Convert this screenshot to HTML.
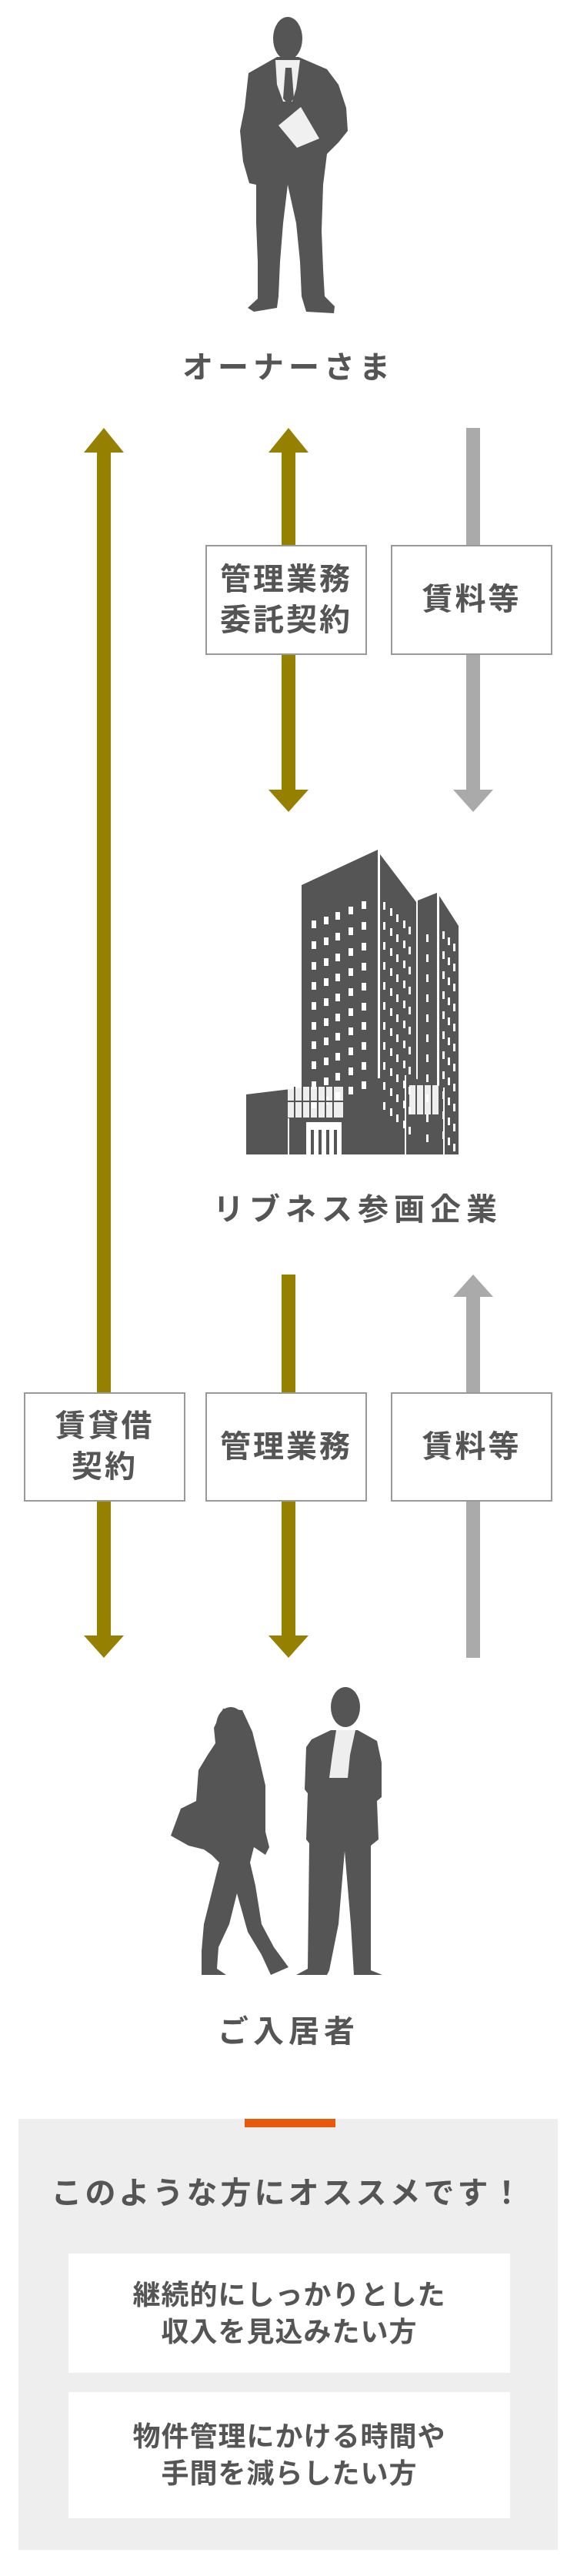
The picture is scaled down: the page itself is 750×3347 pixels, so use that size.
<!DOCTYPE html>
<html><head><meta charset="utf-8">
<style>
html,body{margin:0;padding:0;background:#fff;}
body{width:750px;height:3347px;position:relative;overflow:hidden;font-family:"Liberation Sans","Noto Sans CJK JP",sans-serif;color:#555;}
.t{position:absolute;font-weight:bold;white-space:nowrap;text-align:center;line-height:1;}
.box{position:absolute;background:#fff;border:2px solid #999;box-sizing:border-box;display:flex;align-items:center;justify-content:center;text-align:center;font-weight:bold;font-size:40px;letter-spacing:3px;line-height:53px;color:#555;}
.gbox{position:absolute;left:24px;top:2753px;width:701px;height:560px;background:#eee;}
.wbox{position:absolute;left:89px;width:574px;background:#fff;display:flex;align-items:center;justify-content:center;text-align:center;font-weight:bold;font-size:36px;letter-spacing:1px;line-height:48px;color:#555;}
svg{position:absolute;left:0;top:0;}
</style></head><body>
<svg width="750" height="3347" viewBox="0 0 750 3347">
<!-- owner -->
<g fill="#555">
<ellipse cx="374" cy="50" rx="19" ry="28"/>
<path d="M360,74 L388,74 L425,90 L440,110 L450,140 L452,170 L440,185 L425,200 L420,240 L418,300 L420,350 L422,385 L435,398 L434,407 L398,405 L392,385 L390,340 L385,290 L374,240 L368,290 L364,340 L362,385 L360,400 L330,405 L322,400 L335,388 L335,340 L333,290 L333,240 L324,238 L316,210 L312,170 L318,140 L323,95 Z"/>
</g>
<path d="M358,78 L390,78 L385,115 L380,132 L368,132 L360,110 Z" fill="#f0f0f0"/>
<path d="M371,88 L379,88 L382,128 L375,136 L368,128 Z" fill="#555"/>
<path d="M362,163 L391,139 L415,180 L386,192 Z" fill="#f0f0f0"/>
<!-- arrows row 1 -->
<g fill="#968000">
<rect x="126" y="585" width="18" height="1545"/>
<polygon points="135,556 161,588 109,588"/>
<polygon points="135,2154 161,2125 109,2125"/>
<rect x="366" y="585" width="18" height="445"/>
<polygon points="375,556 401,588 349,588"/>
<polygon points="375,1055 401,1026 349,1026"/>
<rect x="366" y="1656" width="18" height="472"/>
<polygon points="375,2154 401,2125 349,2125"/>
</g>
<g fill="#aaa">
<rect x="606" y="556" width="18" height="472"/>
<polygon points="615,1055 641,1026 589,1026"/>
<rect x="606" y="1682" width="18" height="472"/>
<polygon points="615,1656 641,1685 589,1685"/>
</g>
<!-- building -->
<g fill="#555">
<polygon points="392,1150 491,1104 491,1500 392,1500"/>
<polygon points="494,1110 541,1172 541,1500 494,1500"/>
<polygon points="543,1170 568,1160 568,1500 543,1500"/>
<polygon points="571,1164 596,1203 596,1500 571,1500"/>
<polygon points="320,1422 525,1397 578,1413 578,1500 320,1500"/>
</g>
<g fill="#fff">
<g id="wl">
<rect x="405" y="1196" width="6" height="10"/><rect x="421" y="1191" width="6" height="10"/><rect x="436" y="1185" width="6" height="10"/><rect x="453" y="1178" width="6" height="10"/><rect x="470" y="1171" width="6" height="10"/>
</g>
<use href="#wl" y="27"/><use href="#wl" y="54"/><use href="#wl" y="80"/><use href="#wl" y="106"/><use href="#wl" y="132"/><use href="#wl" y="157"/><use href="#wl" y="183"/><use href="#wl" y="209"/><use href="#wl" y="234"/>
<g id="wr">
<rect x="498" y="1172" width="3" height="10"/><rect x="507" y="1180" width="3" height="10"/><rect x="515" y="1188" width="3" height="10"/><rect x="524" y="1196" width="3" height="10"/><rect x="531" y="1204" width="3" height="10"/>
<rect x="554" y="1214" width="3" height="10"/><rect x="575" y="1210" width="3" height="10"/><rect x="582" y="1218" width="3" height="10"/><rect x="589" y="1226" width="3" height="10"/>
</g>
<use href="#wr" y="26"/><use href="#wr" y="52"/><use href="#wr" y="78"/><use href="#wr" y="104"/><use href="#wr" y="130"/><use href="#wr" y="156"/><use href="#wr" y="182"/><use href="#wr" y="208"/><use href="#wr" y="234"/><use href="#wr" y="260"/>
<rect x="374" y="1412" width="72" height="40" opacity="0.9"/>
<rect x="532" y="1410" width="38" height="38" opacity="0.9"/>
<rect x="374" y="1453" width="2" height="47"/><rect x="398" y="1458" width="46" height="42"/>
<rect x="526" y="1397" width="2" height="103"/><rect x="576" y="1413" width="2" height="87"/>
</g>
<g fill="#555">
<rect x="382" y="1412" width="2" height="40"/><rect x="392" y="1412" width="2" height="40"/><rect x="402" y="1412" width="2" height="40"/><rect x="412" y="1412" width="2" height="40"/><rect x="422" y="1412" width="2" height="40"/><rect x="432" y="1412" width="2" height="40"/>
<rect x="374" y="1430" width="72" height="2"/>
<rect x="404" y="1468" width="4" height="32"/><rect x="414" y="1468" width="4" height="32"/><rect x="424" y="1468" width="4" height="32"/><rect x="434" y="1468" width="4" height="32"/>
<rect x="540" y="1410" width="2" height="38"/><rect x="550" y="1410" width="2" height="38"/><rect x="560" y="1410" width="2" height="38"/>
</g>
<!-- people -->
<g fill="#555">
<ellipse cx="449" cy="2218" rx="19" ry="26"/>
<path d="M430,2248 L465,2248 L490,2262 L496,2290 L496,2335 L490,2340 L492,2390 L482,2398 L482,2560 L497,2566 L460,2566 L456,2500 L448,2405 L440,2500 L428,2560 L425,2566 L385,2566 L400,2558 L402,2395 L398,2390 L400,2330 L396,2325 L398,2270 L405,2260 Z"/>
<ellipse cx="300" cy="2242" rx="19" ry="24"/>
<path d="M290,2220 L315,2222 L328,2250 L338,2290 L345,2320 L345,2380 L350,2400 L345,2410 L330,2400 L325,2420 L332,2450 L340,2500 L356,2530 L375,2556 L352,2566 L340,2540 L322,2510 L308,2460 L298,2500 L284,2530 L282,2558 L294,2566 L262,2566 L262,2535 L265,2500 L275,2460 L285,2420 L275,2410 L265,2403 L245,2398 L222,2385 L235,2350 L255,2340 L258,2300 L270,2280 L280,2265 L278,2245 Z"/>
</g>
<path d="M437,2248 L462,2248 L455,2280 L452,2310 L428,2310 L432,2280 Z" fill="#eee"/>
</svg>

<div class="t" style="left:0;width:750px;top:458px;font-size:40px;letter-spacing:6px;">オーナーさま</div>
<div class="t" style="left:265px;width:400px;top:1552px;font-size:40px;letter-spacing:7px;">リブネス参画企業</div>
<div class="t" style="left:0;width:750px;top:2620px;font-size:40px;letter-spacing:6px;">ご入居者</div>

<div class="box" style="left:267px;top:708px;width:210px;height:143px;">管理業務<br>委託契約</div>
<div class="box" style="left:508px;top:708px;width:210px;height:143px;">賃料等</div>
<div class="box" style="left:31px;top:1809px;width:210px;height:142px;">賃貸借<br>契約</div>
<div class="box" style="left:267px;top:1809px;width:210px;height:142px;">管理業務</div>
<div class="box" style="left:508px;top:1809px;width:210px;height:142px;">賃料等</div>

<div class="gbox"></div>
<div style="position:absolute;left:318px;top:2753px;width:118px;height:11px;background:#e8590c;"></div>
<div class="t" style="left:24px;width:701px;top:2830px;font-size:40px;letter-spacing:4px;">このような方にオススメです！</div>
<div class="wbox" style="top:2928px;height:155px;">継続的にしっかりとした<br>収入を見込みたい方</div>
<div class="wbox" style="top:3108px;height:164px;">物件管理にかける時間や<br>手間を減らしたい方</div>
</body></html>
